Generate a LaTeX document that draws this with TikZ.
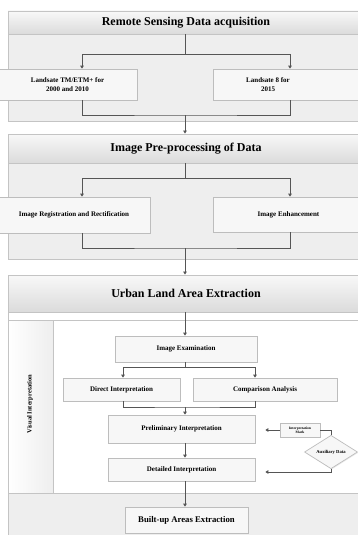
\documentclass[tikz,border=0pt]{standalone}
\usepackage{fontspec}
\setmainfont{Liberation Serif}
\usetikzlibrary{calc,shapes.geometric,arrows.meta,shadows}
\definecolor{panelfill}{HTML}{EEEEEE}
\definecolor{panelline}{HTML}{C4C4C4}
\definecolor{boxline}{HTML}{BDBDBD}
\definecolor{flowline}{HTML}{555555}
\tikzset{panel/.style={draw=panelline,line width=0.9pt,fill=panelfill},band/.style={draw=panelline,line width=0.9pt,top color=white!60!panelfill,bottom color=panelfill!92!black,inner sep=0pt,font=\bfseries\fontsize{12}{14}\selectfont},stepbox/.style={draw=boxline,line width=0.7pt,fill=white!55!panelfill,inner sep=0pt,align=center,font=\bfseries\fontsize{7}{8.5}\selectfont,drop shadow={opacity=0.18,shadow xshift=0.8pt,shadow yshift=-0.8pt}},boxtext/.style={inner sep=0pt,align=center,font=\bfseries\fontsize{7}{8.5}\selectfont},flow/.style={draw=flowline,line width=1pt},tip/.style={-{Triangle[width=3.6pt,length=3pt]}}}

\begin{document}
\begin{tikzpicture}[x=1pt,y=-1pt]
\useasboundingbox (0,0) rectangle (358,535);
\clip (0,0) rectangle (358,535);
% remote sensing data acquisition
\draw[panel] (8,11) rectangle (364,121);
\node[band,minimum width=356,minimum height=23] (acq) at (186,22.5) {Remote Sensing Data acquisition};
\node[stepbox,minimum width=139,minimum height=31] (ls7) at (67.5,84.5) {Landsate TM/ETM+ for\\2000 and 2010};
\node[stepbox,minimum width=151,minimum height=31] (ls8) at (288.5,84.5) {};
\node[boxtext] (ls8t) at (268,84.5) {Landsate 8 for\\2015};
\coordinate (s1) at (185,55);
\coordinate (j1) at (185,115);
\draw[flow] (acq.south -| s1) -- (s1);
\draw[flow,tip] (s1) -| ([xshift=14.5]ls7.north);
\draw[flow,tip] (s1) -| ([xshift=1.5]ls8.north);
\draw[flow] ([xshift=14.5]ls7.south) |- (j1) -| ([xshift=1.5]ls8.south);
% image pre-processing
\draw[panel] (8,134) rectangle (364,259);
\node[band,minimum width=356,minimum height=29] (pre) at (186,148.5) {Image Pre-processing of Data};
\draw[flow,tip] (j1) -- (pre.north -| j1);
\node[stepbox,minimum width=152,minimum height=36] (reg) at (74,215) {Image Registration and Rectification};
\node[stepbox,minimum width=151,minimum height=35] (enh) at (288.5,214.5) {Image Enhancement};
\coordinate (s2) at (185,178);
\coordinate (j2) at (185,248);
\draw[flow] (pre.south -| s2) -- (s2);
\draw[flow,tip] (s2) -| ([xshift=8]reg.north);
\draw[flow,tip] (s2) -| ([xshift=1.5]enh.north);
\draw[flow] ([xshift=8]reg.south) |- (j2) -| ([xshift=1.5]enh.south);
% urban land area extraction
\draw[panel] (8,275) rectangle (364,540);
\fill[white] (8.5,312) rectangle (363,320);
\draw[panelline,line width=0.9pt,fill=white] (53,320) rectangle (364,493);
\shade[left color=white,right color=panelfill,draw=panelline,line width=0.9pt] (8,320) rectangle (53,493);
\node[band,minimum width=356,minimum height=37] (ule) at (186,293.5) {Urban Land Area Extraction};
\draw[flow,tip] (j2) -- (ule.north -| j2);
\node[boxtext,rotate=90,font=\bfseries\fontsize{6.5}{8}\selectfont] (vis) at (30,404) {Visual Interpretation};
\node[stepbox,minimum width=142,minimum height=26] (exam) at (186,349) {Image Examination};
\node[stepbox,minimum width=117,minimum height=23] (dir) at (121.5,389.5) {Direct Interpretation};
\node[stepbox,minimum width=144,minimum height=23] (cmp) at (265,389.5) {Comparison Analysis};
\node[stepbox,minimum width=147,minimum height=28] (pri) at (181.5,429) {Preliminary Interpretation};
\node[stepbox,minimum width=147,minimum height=23] (det) at (181.5,469.5) {Detailed Interpretation};
\node[stepbox,minimum width=40,minimum height=14,font=\bfseries\fontsize{3.6}{4.2}\selectfont] (mark) at (300,430) {Interpretation\\Mark};
\node[stepbox,diamond,minimum width=53,minimum height=27,font=\bfseries\fontsize{4.6}{5}\selectfont] (aux) at (331,452) {Auxiliary Data};
\node[stepbox,minimum width=123,minimum height=26,font=\bfseries\fontsize{8.7}{10}\selectfont] (bua) at (186.5,520) {Built-up Areas Extraction};
\coordinate (s3) at (185,367);
\coordinate (j3) at (185,407);
\draw[flow,tip] (ule.south -| s3) -- (exam.north -| s3);
\draw[flow] (exam.south -| s3) -- (s3);
\draw[flow,tip] (s3) -| ([xshift=1.5]dir.north);
\draw[flow,tip] (s3) -| ([xshift=-10]cmp.north);
\draw[flow] ([xshift=1.5]dir.south) |- (j3) -| ([xshift=-10]cmp.south);
\draw[flow,tip] (j3) -- (pri.north -| j3);
\draw[flow,tip] (pri.south -| j3) -- (det.north -| j3);
\draw[flow,tip] (det.south -| j3) -- (bua.north -| j3);
\draw[flow,tip,shorten >=10pt] (mark.west) -- (mark.west -| pri.east);
\draw[flow] (mark.east) -| (aux.north);
\draw[flow,tip,shorten >=10pt] (aux.south) |- ([yshift=-2.5]det.east);
\end{tikzpicture}
\end{document}
